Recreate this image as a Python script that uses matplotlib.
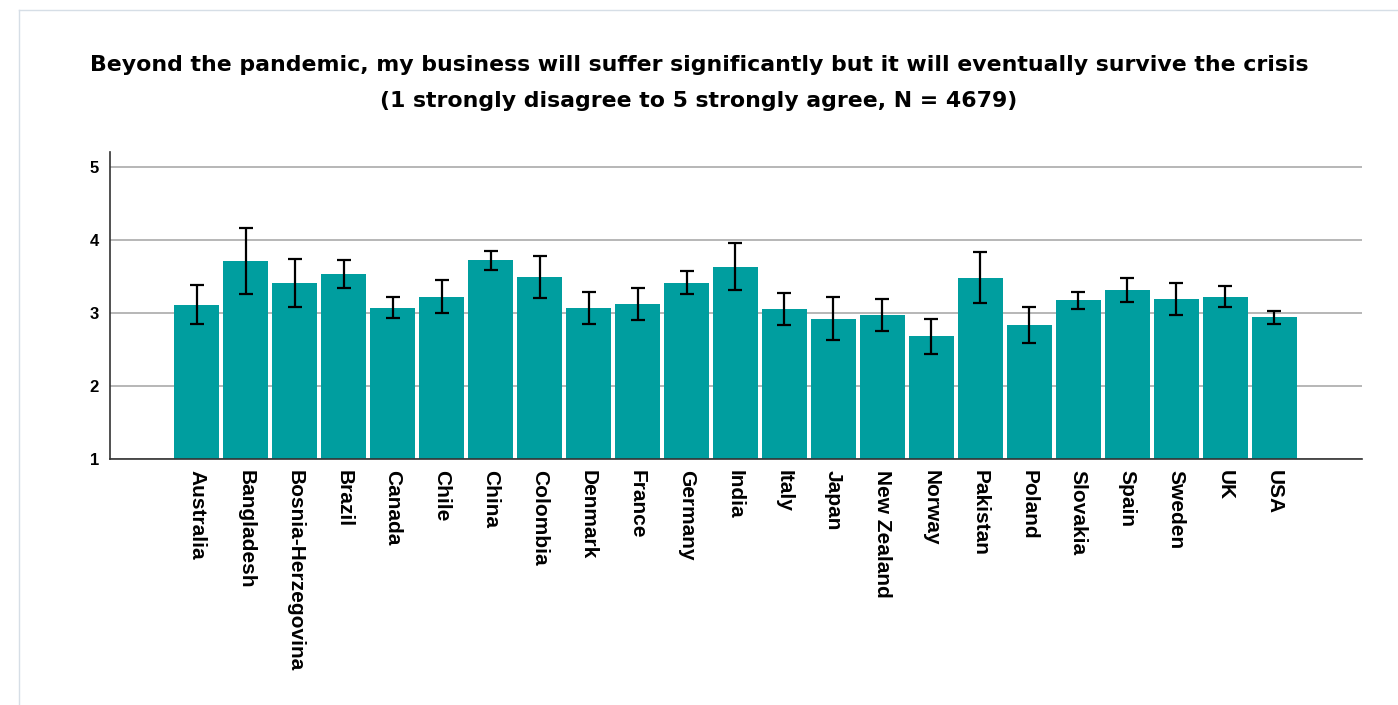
import matplotlib
matplotlib.use('Agg')
import matplotlib.pyplot as plt
from matplotlib.lines import Line2D
import numpy as np

# ── Data ──────────────────────────────────────────────────────────────────────
countries = ['Australia', 'Bangladesh', 'Bosnia-Herzegovina', 'Brazil', 'Canada',
             'Chile', 'China', 'Colombia', 'Denmark', 'France', 'Germany', 'India',
             'Italy', 'Japan', 'New Zealand', 'Norway', 'Pakistan', 'Poland',
             'Slovakia', 'Spain', 'Sweden', 'UK', 'USA']
means  = [3.11, 3.71, 3.41, 3.53, 3.07, 3.22, 3.72, 3.49, 3.07, 3.12, 3.41, 3.63,
          3.05, 2.92, 2.97, 2.68, 3.48, 2.83, 3.17, 3.31, 3.19, 3.22, 2.94]
errors = [0.27, 0.45, 0.33, 0.19, 0.14, 0.23, 0.13, 0.29, 0.22, 0.22, 0.16, 0.32,
          0.22, 0.29, 0.22, 0.24, 0.35, 0.25, 0.12, 0.16, 0.22, 0.14, 0.09]
yticks = [1, 2, 3, 4, 5]

TITLE = ('Beyond the pandemic, my business will suffer significantly but it will eventually survive the crisis\n'
         '(1 strongly disagree to 5 strongly agree, N = 4679)')

plt.rcParams['font.family'] = ['Liberation Sans', 'DejaVu Sans']
plt.rcParams['font.weight'] = 'bold'

fig = plt.figure(figsize=(13.98, 7.05), dpi=100)
ax = fig.add_axes([0.0787, 0.349, 0.8955, 0.4355])

# page frame seen at top/left of the screenshot
fig.add_artist(Line2D([19 / 1398, 1], [1 - 10 / 705] * 2, color='#d6dee6', lw=1.0))
fig.add_artist(Line2D([19 / 1398] * 2, [0, 1 - 10 / 705], color='#d6dee6', lw=1.0))

x = np.arange(len(countries))
ax.bar(x, np.array(means) - 1, bottom=1, width=0.92, color='#009e9f', zorder=2)
ax.errorbar(x, means, yerr=errors, fmt='none', ecolor='black', elinewidth=1.6,
            capsize=5, capthick=1.6, zorder=3)

ax.set_xlim(-1.77, len(countries) - 1 + 1.79)
ax.set_ylim(1, 5.2)
ax.set_yticks(yticks)
ax.set_yticklabels([str(t) for t in yticks], fontsize=12, fontweight='bold')
ax.yaxis.grid(True, color='#aaaaaa', lw=1.2, zorder=0)
ax.set_axisbelow(True)

ax.set_xticks(x)
ax.set_xticklabels(countries, rotation=-90, fontsize=15, fontweight='bold',
                   va='top', ha='center')
ax.tick_params(axis='both', length=0)
ax.tick_params(axis='x', pad=8)
ax.tick_params(axis='y', pad=8)

for side in ['top', 'right']:
    ax.spines[side].set_visible(False)
ax.spines['left'].set_color('#333333')
ax.spines['bottom'].set_color('#333333')
ax.spines['left'].set_linewidth(1.2)
ax.spines['bottom'].set_linewidth(1.2)

# title is wide and letter-spaced in the original; DejaVu Bold gets the width
fig.text(0.5, 1 - 83 / 705, TITLE, ha='center', va='center', fontsize=15.8,
         fontweight='bold', family='DejaVu Sans', linespacing=1.95)

fig.savefig('out.png', dpi=100, facecolor='white')
